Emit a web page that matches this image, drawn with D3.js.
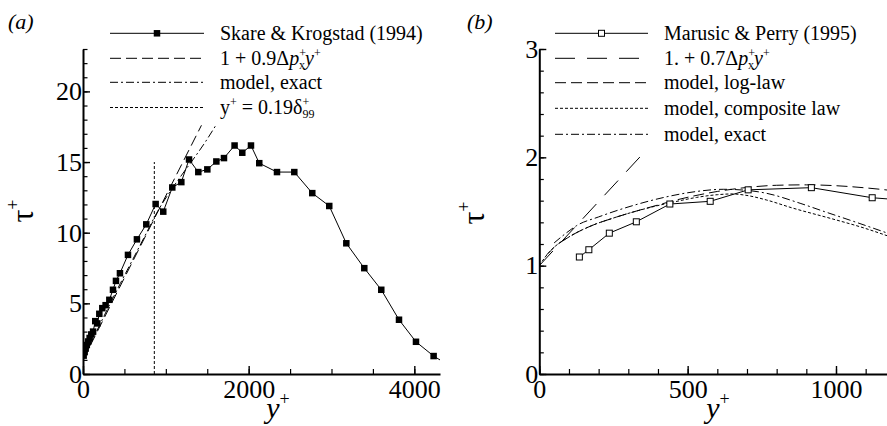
<!DOCTYPE html>
<html>
<head>
<meta charset="utf-8">
<script src="https://cdn.jsdelivr.net/npm/d3@7"></script>
<style>
  html, body { margin: 0; padding: 0; background: #fff; }
  svg { display: block; }
</style>
</head>
<body>
<svg id="chart" width="887" height="426"></svg>
<script>
// ---------- Panel (a): Skare & Krogstad (1994) ----------
const skareYPlus = [8, 20, 32, 46, 62, 80, 100, 122, 148, 173, 197, 233, 273, 318, 362, 398, 446, 543, 651, 764,
  877, 969, 1078, 1187, 1280, 1392, 1501, 1610, 1702, 1830, 1923, 2028, 2128, 2342, 2551, 2768, 2973, 3179,
  3396, 3601, 3815, 4020, 4233, 4450];
const skareTau = [1.3, 1.55, 1.8, 2.05, 2.3, 2.55, 2.8, 3.0, 3.74, 3.58, 4.26, 4.66, 4.87, 5.25, 5.96, 6.59, 7.13, 8.43, 9.53, 10.59,
  12.03, 11.49, 13.2, 13.58, 15.18, 14.29, 14.48, 15.04, 15.28, 16.17, 15.66, 16.17, 14.92, 14.29, 14.29, 12.8, 11.89, 9.25,
  7.49, 5.96, 3.84, 2.28, 1.27, 0.5];
const linearAYPlus = [0, 1430];
const linearATau = [1.0, 17.6];
const exactAYPlus = [0, 150, 300, 450, 600, 750, 900, 1050, 1200, 1350, 1480, 1610];
const exactATau = [1.0, 2.85, 4.65, 6.4, 8.1, 9.8, 11.5, 12.9, 14.15, 15.35, 16.45, 17.66];
const deltaYPlus = [861, 861];
const deltaTau = [0, 15];
const xTicksA = [0, 2000, 4000];
const yTicksA = [0, 5, 10, 15, 20];

// ---------- Panel (b): Marusic & Perry (1995) ----------
const marusicYPlus = [135, 167, 236, 327, 440, 576, 704, 917, 1122, 1300];
const marusicTau = [1.08, 1.147, 1.30, 1.405, 1.569, 1.594, 1.70, 1.72, 1.627, 1.59];
const linearBYPlus = [0, 365];
const linearBTau = [1.0, 2.08];
const logLawYPlus = [25, 50, 100, 177, 250, 322, 400, 457, 541, 600, 700, 800, 900, 1000, 1100, 1200];
const logLawTau = [1.10, 1.17, 1.265, 1.37, 1.44, 1.50, 1.56, 1.603, 1.655, 1.685, 1.722, 1.742, 1.746, 1.738, 1.718, 1.69];
const compositeYPlus = [0, 20, 50, 100, 177, 250, 322, 400, 457, 530, 600, 650, 700, 766, 850, 990, 1080, 1200];
const compositeTau = [1.0, 1.08, 1.17, 1.265, 1.37, 1.44, 1.50, 1.555, 1.59, 1.63, 1.655, 1.662, 1.648, 1.606, 1.535, 1.43, 1.36, 1.25];
const exactBYPlus = [50, 90, 126, 200, 322, 420, 525, 620, 700, 766, 879, 960, 1047, 1200];
const exactBTau = [1.21, 1.30, 1.37, 1.45, 1.56, 1.63, 1.683, 1.705, 1.695, 1.668, 1.576, 1.50, 1.42, 1.275];
const xTicksB = [0, 500, 1000];
const yTicksB = [0, 1, 2, 3];

const FONT = "Liberation Serif";
const svg = d3.select("#chart");

// scales
const xA = d3.scaleLinear().domain([0, 4310]).range([83, 440]);
const yA = d3.scaleLinear().domain([0, 23]).range([374, 49]);
const xB = d3.scaleLinear().domain([0, 1180]).range([539.3, 889.4]);
const yB = d3.scaleLinear().domain([0, 3]).range([374, 49]);

const STYLES = {
  solid: null,
  dashed: "11,5",
  dashdot: "8,3,2,3",
  dotted: "3,2",
  longdash: "20,12"
};

function drawAxes(g, x, y, xMajor, xMinor, yMajor, yMinor) {
  // minor ticks
  g.append("g").attr("transform", `translate(0,${y(0)})`)
    .call(d3.axisBottom(x).tickValues(xMinor).tickSize(-5).tickFormat(""))
    .call(s => s.select(".domain").remove())
    .call(s => s.selectAll("line").attr("stroke", "#000").attr("stroke-width", 1.2));
  g.append("g").attr("transform", `translate(${x(0)},0)`)
    .call(d3.axisLeft(y).tickValues(yMinor).tickSize(-4.5).tickFormat(""))
    .call(s => s.select(".domain").remove())
    .call(s => s.selectAll("line").attr("stroke", "#000").attr("stroke-width", 1.2));
  // major ticks and labels
  const xa = g.append("g").attr("transform", `translate(0,${y(0)})`)
    .call(d3.axisBottom(x).tickValues(xMajor).tickSize(-8).tickSizeOuter(0).tickPadding(6).tickFormat(d3.format("d")));
  const ya = g.append("g").attr("transform", `translate(${x(0)},0)`)
    .call(d3.axisLeft(y).tickValues(yMajor).tickSize(-7).tickSizeOuter(0).tickPadding(1).tickFormat(d3.format("d")));
  [xa, ya].forEach(a => {
    a.attr("font-family", null).attr("font-size", null);
    a.select(".domain").attr("stroke", "#000").attr("stroke-width", 2);
    a.selectAll(".tick line").attr("stroke", "#000").attr("stroke-width", 1.4);
    a.selectAll(".tick text").attr("fill", "#000").style("font-size", "26px");
  });
}

function plotLine(g, x, y, xs, ys, style, curve) {
  const pts = xs.map((d, i) => [d, ys[i]]);
  g.append("path")
    .attr("d", d3.line().x(d => x(d[0])).y(d => y(d[1])).curve(curve || d3.curveLinear)(pts))
    .attr("fill", "none").attr("stroke", "#000").attr("stroke-width", 1)
    .attr("stroke-dasharray", STYLES[style]);
}

function clip(id, x, y) {
  svg.append("clipPath").attr("id", id).append("rect")
    .attr("x", x.range()[0]).attr("y", y.range()[1] - 2)
    .attr("width", x.range()[1] - x.range()[0]).attr("height", y.range()[0] - y.range()[1] + 2);
}

function axisTitles(g, xPos, yPos, tauX, tauY) {
  const t = g.append("text").attr("x", xPos).attr("y", yPos).attr("text-anchor", "middle").style("font-size", "30px");
  t.append("tspan").style("font-style", "italic").text("y");
  t.append("tspan").style("font-size", "18px").attr("dy", -13).text("+");
  const r = g.append("text").attr("transform", `translate(${tauX},${tauY}) rotate(-90)`).attr("text-anchor", "middle").style("font-size", "32px");
  r.append("tspan").text("τ");
  r.append("tspan").style("font-size", "18px").attr("dy", -14).text("+");
}

function legendRow(g, x0, x1, yRow, style, marker, buildText) {
  g.append("line").attr("x1", x0).attr("x2", x1).attr("y1", yRow).attr("y2", yRow)
    .attr("stroke", "#000").attr("stroke-width", 1).attr("stroke-dasharray", STYLES[style]);
  if (marker === "filled") {
    g.append("rect").attr("x", (x0 + x1) / 2 - 3.25).attr("y", yRow - 3.25).attr("width", 6.5).attr("height", 6.5).attr("fill", "#000");
  } else if (marker === "open") {
    g.append("rect").attr("x", (x0 + x1) / 2 - 3).attr("y", yRow - 3).attr("width", 6).attr("height", 6)
      .attr("fill", "#fff").attr("stroke", "#000").attr("stroke-width", 1);
  }
  const t = g.append("text").attr("x", x1 + 16).attr("y", yRow + 6.5).style("font-size", "20px");
  buildText(t);
}

// stacked super/subscript after a symbol, e.g. p with "+" above and "x" below
function supSub(t, sup, sub, back) {
  t.append("tspan").style("font-size", "12px").attr("dy", -8).text(sup);
  t.append("tspan").style("font-size", "12px").attr("dx", -back).attr("dy", 12).text(sub);
}

// ---------- draw panel (a) ----------
const gA = svg.append("g");
clip("clipA", xA, yA);
const pA = gA.append("g").attr("clip-path", "url(#clipA)");
plotLine(pA, xA, yA, deltaYPlus, deltaTau, "dotted");
plotLine(pA, xA, yA, linearAYPlus, linearATau, "dashed");
plotLine(pA, xA, yA, exactAYPlus, exactATau, "dashdot", d3.curveMonotoneX);
plotLine(pA, xA, yA, skareYPlus, skareTau, "solid");
pA.selectAll("rect.pt").data(skareYPlus.map((d, i) => [d, skareTau[i]])).join("rect")
  .attr("class", "pt")
  .attr("x", d => xA(d[0]) - 3.25).attr("y", d => yA(d[1]) - 3.25)
  .attr("width", 6.5).attr("height", 6.5).attr("fill", "#000");
drawAxes(gA, xA, yA, xTicksA, d3.range(0, 4301, 500), yTicksA, d3.range(0, 23.5, 1));
axisTitles(gA, 278, 418, 33, 211);
gA.append("text").attr("x", 8).attr("y", 29).style("font-size", "22px").style("font-style", "italic").text("(a)");

const legA = gA.append("g");
legendRow(legA, 110, 204, 33.3, "solid", "filled", t => t.text("Skare & Krogstad (1994)"));
legendRow(legA, 110, 204, 58.3, "dashed", null, t => {
  t.append("tspan").text("1 + 0.9Δ");
  t.append("tspan").style("font-style", "italic").text("p");
  supSub(t, "+", "x", 6.8);
  t.append("tspan").style("font-style", "italic").attr("dy", -4).text("y");
  t.append("tspan").style("font-size", "12px").attr("dy", -8).text("+");
});
legendRow(legA, 110, 204, 82.3, "dashdot", null, t => t.text("model, exact"));
legendRow(legA, 110, 204, 107.5, "dotted", null, t => {
  t.append("tspan").text("y");
  t.append("tspan").style("font-size", "12px").attr("dy", -8).text("+");
  t.append("tspan").attr("dy", 8).text(" = 0.19δ");
  supSub(t, "+", "99", 6.8);
});

// ---------- draw panel (b) ----------
const gB = svg.append("g");
clip("clipB", xB, yB);
const pB = gB.append("g").attr("clip-path", "url(#clipB)");
plotLine(pB, xB, yB, linearBYPlus, linearBTau, "longdash");
plotLine(pB, xB, yB, logLawYPlus, logLawTau, "dashed", d3.curveMonotoneX);
plotLine(pB, xB, yB, compositeYPlus, compositeTau, "dotted", d3.curveMonotoneX);
plotLine(pB, xB, yB, exactBYPlus, exactBTau, "dashdot", d3.curveMonotoneX);
plotLine(pB, xB, yB, marusicYPlus, marusicTau, "solid");
pB.selectAll("rect.pt").data(marusicYPlus.map((d, i) => [d, marusicTau[i]])).join("rect")
  .attr("class", "pt")
  .attr("x", d => xB(d[0]) - 3).attr("y", d => yB(d[1]) - 3)
  .attr("width", 6).attr("height", 6).attr("fill", "#fff").attr("stroke", "#000").attr("stroke-width", 1);
drawAxes(gB, xB, yB, xTicksB, d3.range(0, 1181, 100), yTicksB, d3.range(0, 3.001, 0.2).map(v => +v.toFixed(1)));
axisTitles(gB, 718, 418, 484, 213);
gB.append("text").attr("x", 467).attr("y", 29).style("font-size", "22px").style("font-style", "italic").text("(b)");

const legB = gB.append("g");
legendRow(legB, 555, 648, 33.3, "solid", "open", t => t.text("Marusic & Perry (1995)"));
legendRow(legB, 555, 648, 58.3, "longdash", null, t => {
  t.append("tspan").text("1. + 0.7Δ");
  t.append("tspan").style("font-style", "italic").text("p");
  supSub(t, "+", "x", 6.8);
  t.append("tspan").style("font-style", "italic").attr("dy", -4).text("y");
  t.append("tspan").style("font-size", "12px").attr("dy", -8).text("+");
});
legendRow(legB, 555, 648, 82.7, "dashed", null, t => t.text("model, log-law"));
legendRow(legB, 555, 648, 108.3, "dotted", null, t => t.text("model, composite law"));
legendRow(legB, 555, 648, 134.3, "dashdot", null, t => t.text("model, exact"));

// every text element carries the serif face inline
svg.selectAll("text").style("font-family", FONT).style("fill", "#000");
</script>
</body>
</html>
